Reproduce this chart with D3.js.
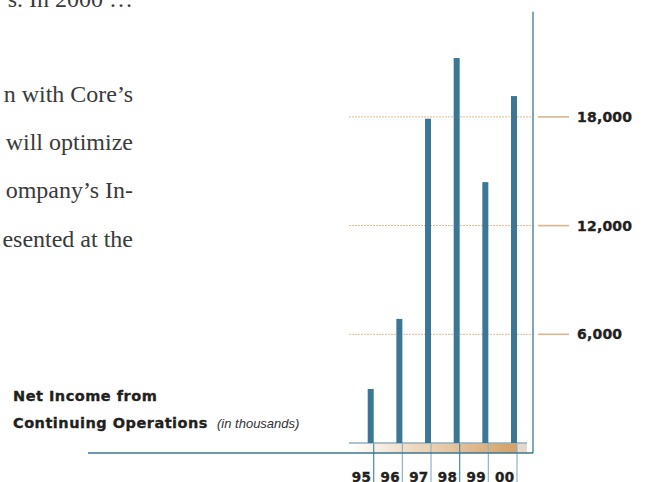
<!DOCTYPE html>
<html>
<head>
<meta charset="utf-8">
<script src="https://cdn.jsdelivr.net/npm/d3@7"></script>
<style>
  html, body { margin: 0; padding: 0; background: #fff; }
  svg { display: block; }
  .serif { font-family: "Liberation Serif", "Times New Roman", serif; font-size: 24px; fill: #3a3a3a; }
  .heavy { font-family: "DejaVu Sans", sans-serif; font-weight: bold; fill: #231f20; stroke: #231f20; stroke-width: 0.35px; }
</style>
</head>
<body>
<div id="chart"></div>
<script>
// Data
const years = ["95", "96", "97", "98", "99", "00"];
const netIncome = [2980, 6850, 17900, 21250, 14400, 19150];
const tickValues = [6000, 12000, 18000];
const tickLabels = ["6,000", "12,000", "18,000"];
const titleLines = ["Net Income from", "Continuing Operations"];
const unitLabel = "(in thousands)";
const bodyLines = ["s. In 2000 \u2026", "n with Core\u2019s", "will optimize", "ompany\u2019s In-", "esented at the"];

const W = 647, H = 482;

const svg = d3.select("#chart")
  .append("svg")
  .attr("width", W)
  .attr("height", H);

// Scales
const x = d3.scalePoint()
  .domain(years)
  .range([370.7, 514]);

const y = d3.scaleLinear()
  .domain([0, 24000])
  .range([443, 8.2]);

const barW = 6;
const axisX = 533;
const baseY = y(0);
const floorY = baseY + 10;

// Body copy (cropped paragraph on the left)
const bodyY = [7, 102, 150, 198, 247];
svg.selectAll(".body")
  .data(bodyLines)
  .enter().append("text")
  .attr("class", "serif")
  .attr("x", 133)
  .attr("y", (d, i) => bodyY[i])
  .attr("text-anchor", "end")
  .text(d => d);

// Gradient under the bars
const defs = svg.append("defs");
const grad = defs.append("linearGradient")
  .attr("id", "floor")
  .attr("x1", "0%").attr("x2", "100%");
grad.append("stop").attr("offset", "0%").attr("stop-color", "#ffffff");
grad.append("stop").attr("offset", "35%").attr("stop-color", "#efdcc4");
grad.append("stop").attr("offset", "100%").attr("stop-color", "#d4a066");

const stripL = 349, stripR = x(years[years.length - 1]) + barW / 2;
svg.append("rect")
  .attr("x", stripL)
  .attr("y", baseY)
  .attr("width", stripR - stripL)
  .attr("height", floorY - baseY)
  .attr("fill", "url(#floor)");
svg.append("rect")
  .attr("x", stripR)
  .attr("y", baseY)
  .attr("width", 10)
  .attr("height", floorY - baseY)
  .attr("fill", "#c9b49a")
  .attr("opacity", 0.5);

// Gridlines (dotted) and tick dashes
svg.selectAll(".grid")
  .data(tickValues)
  .enter().append("line")
  .attr("x1", stripL)
  .attr("x2", axisX)
  .attr("y1", d => y(d))
  .attr("y2", d => y(d))
  .attr("stroke", "#e3b88c")
  .attr("stroke-width", 1)
  .attr("stroke-dasharray", "2,1");

svg.selectAll(".tick")
  .data(tickValues)
  .enter().append("line")
  .attr("x1", axisX + 5)
  .attr("x2", axisX + 36)
  .attr("y1", d => y(d))
  .attr("y2", d => y(d))
  .attr("stroke", "#dcb58e")
  .attr("stroke-width", 1.6);

svg.selectAll(".tlabel")
  .data(tickValues)
  .enter().append("text")
  .attr("class", "heavy")
  .attr("x", axisX + 44)
  .attr("y", d => y(d) + 5)
  .attr("font-size", 14)
  .attr("letter-spacing", 0.2)
  .text((d, i) => tickLabels[i]);

// Year separators
svg.selectAll(".sep")
  .data(years)
  .enter().append("line")
  .attr("x1", d => x(d) + barW / 2)
  .attr("x2", d => x(d) + barW / 2)
  .attr("y1", baseY)
  .attr("y2", H)
  .attr("stroke", (d, i) => (i % 3 === 0 ? "#4f86a6" : "#8fb3c7"))
  .attr("stroke-width", 1.2);

// Baseline under bars
svg.append("line")
  .attr("x1", stripL)
  .attr("x2", 527)
  .attr("y1", baseY)
  .attr("y2", baseY)
  .attr("stroke", "#8fb1c5")
  .attr("stroke-width", 1.5);

// Bars
svg.selectAll(".bar")
  .data(netIncome)
  .enter().append("rect")
  .attr("x", (d, i) => x(years[i]) - barW / 2)
  .attr("y", d => y(d))
  .attr("width", barW)
  .attr("height", d => baseY - y(d))
  .attr("fill", "#3b7795");

// Axis frame
svg.append("line")
  .attr("x1", axisX).attr("x2", axisX)
  .attr("y1", y(23800)).attr("y2", floorY)
  .attr("stroke", "#3b7795")
  .attr("stroke-width", 1.3);
svg.append("line")
  .attr("x1", 88).attr("x2", axisX)
  .attr("y1", floorY).attr("y2", floorY)
  .attr("stroke", "#3b7795")
  .attr("stroke-width", 1.3);

// Year labels
svg.selectAll(".year")
  .data(years)
  .enter().append("text")
  .attr("class", "heavy")
  .attr("x", d => x(d) + barW / 2 - 2.5)
  .attr("y", 481.5)
  .attr("text-anchor", "end")
  .attr("font-size", 13.5)
  .attr("letter-spacing", 0.3)
  .text(d => d);

// Title
svg.selectAll(".title")
  .data(titleLines)
  .enter().append("text")
  .attr("class", "heavy")
  .attr("x", 13)
  .attr("y", (d, i) => 401 + i * 27)
  .attr("font-size", 14.5)
  .attr("letter-spacing", 0.5)
  .text(d => d);

svg.append("text")
  .attr("x", 217)
  .attr("y", 428)
  .attr("font-family", "Liberation Sans, Arial, sans-serif")
  .attr("font-style", "italic")
  .attr("font-size", 13)
  .attr("fill", "#333")
  .text(unitLabel);
</script>
</body>
</html>
